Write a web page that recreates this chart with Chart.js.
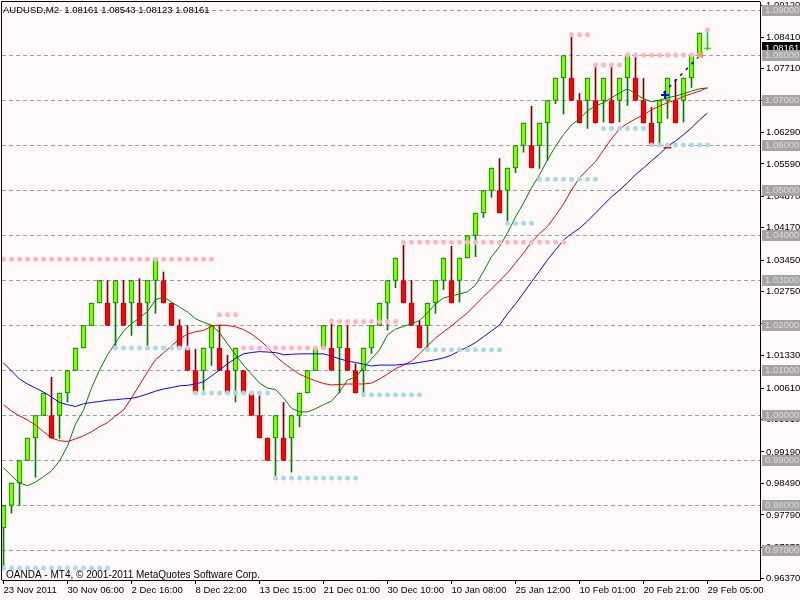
<!DOCTYPE html>
<html><head><meta charset="utf-8">
<script src="https://cdn.jsdelivr.net/npm/chart.js@4.4.0/dist/chart.umd.min.js"></script>
<style>html,body{margin:0;padding:0;background:#FFFAFA;overflow:hidden}#wrap{width:800px;height:600px;position:relative}</style>
</head><body><div id="wrap"><canvas id="c" width="800" height="600"></canvas></div>
<script>
const symbolTitle = "AUDUSD,M2  1.08161 1.08543 1.08123 1.08161";
const copyright = "OANDA - MT4, \u00A9 2001-2011 MetaQuotes Software Corp.";
const xTickLabels = ["23 Nov 2011","30 Nov 06:00","2 Dec 16:00","8 Dec 22:00","13 Dec 15:00","21 Dec 01:00","30 Dec 10:00","10 Jan 08:00","25 Jan 12:00","10 Feb 01:00","20 Feb 21:00","29 Feb 05:00"];
const yTickValues = [1.0912,1.0841,1.0771,1.0700,1.0629,1.0559,1.0487,1.0417,1.0345,1.0275,1.0204,1.0133,1.0061,0.9991,0.9919,0.9849,0.9779,0.9707,0.9637];
const levelLines = [1.09,1.08,1.07,1.06,1.05,1.04,1.03,1.02,1.01,1.00,0.99,0.98,0.97];

const opens = [0.975,0.980,0.985,0.990,0.995,1.000,1.000,1.000,1.005,1.010,
 1.015,1.020,1.025,1.025,1.025,1.025,1.025,1.025,1.025,1.030,
 1.030,1.025,1.020,1.015,1.010,1.010,1.015,1.015,1.010,1.010,
 1.010,1.005,1.000,0.995,0.995,0.995,0.995,1.000,1.005,1.010,
 1.015,1.015,1.015,1.015,1.010,1.010,1.015,1.020,1.025,1.030,
 1.030,1.025,1.020,1.020,1.025,1.030,1.030,1.030,1.035,1.040,
 1.045,1.050,1.050,1.050,1.055,1.060,1.060,1.060,1.065,1.070,
 1.075,1.075,1.070,1.070,1.070,1.070,1.070,1.070,1.075,1.075,
 1.070,1.065,1.065,1.070,1.070,1.070,1.075,1.080];
const closes = [0.980,0.985,0.990,0.995,1.000,1.005,0.995,1.005,1.010,1.015,
 1.020,1.025,1.030,1.020,1.030,1.020,1.030,1.020,1.030,1.035,
 1.025,1.020,1.015,1.010,1.005,1.015,1.020,1.010,1.005,1.015,
 1.005,1.000,0.995,0.990,1.000,0.990,1.000,1.005,1.010,1.015,
 1.020,1.010,1.020,1.010,1.005,1.015,1.020,1.025,1.030,1.035,
 1.025,1.020,1.015,1.025,1.030,1.035,1.025,1.035,1.040,1.045,
 1.050,1.055,1.045,1.055,1.060,1.065,1.055,1.065,1.070,1.075,
 1.080,1.070,1.065,1.075,1.065,1.075,1.065,1.075,1.080,1.070,
 1.065,1.060,1.070,1.075,1.065,1.075,1.080,1.085];
const highs = [0.980,0.985,0.990,0.995,1.000,1.005,1.0085,1.005,1.010,1.015,
 1.020,1.025,1.030,1.030,1.030,1.030,1.030,1.0304,1.030,1.035,
 1.0319,1.025,1.0213,1.020,1.0147,1.015,1.020,1.020,1.0134,1.015,
 1.010,1.005,1.0044,0.995,1.000,1.0029,1.000,1.005,1.010,1.015,
 1.020,1.0214,1.020,1.020,1.0115,1.015,1.020,1.025,1.030,1.035,
 1.0378,1.030,1.0211,1.025,1.030,1.035,1.0376,1.035,1.040,1.045,
 1.050,1.055,1.0571,1.055,1.060,1.065,1.0687,1.065,1.070,1.075,
 1.080,1.0844,1.0716,1.075,1.0778,1.075,1.0778,1.075,1.080,1.080,
 1.0749,1.0685,1.070,1.075,1.0747,1.075,1.080,1.085];
const lows = [0.9663,0.9783,0.980,0.990,0.9863,1.000,0.995,0.9949,1.003,1.010,
 1.015,1.020,1.025,1.020,1.0155,1.020,1.0178,1.020,1.0155,1.0227,
 1.025,1.020,1.015,1.010,1.005,1.0056,1.0111,1.010,1.005,1.003,
 1.005,1.000,0.995,0.990,0.9863,0.990,0.9874,0.9975,1.005,1.010,
 1.015,1.010,1.005,1.010,1.005,1.005,1.0138,1.020,1.019,1.0284,
 1.025,1.020,1.015,1.015,1.0227,1.028,1.025,1.0252,1.035,1.0353,
 1.044,1.0485,1.045,1.043,1.054,1.0585,1.055,1.0549,1.0567,1.0693,
 1.067,1.070,1.065,1.0638,1.065,1.0652,1.065,1.0652,1.0689,1.070,
 1.065,1.060,1.060,1.066,1.065,1.0652,1.0729,1.080];

const maFast = [0.9884,0.9866,0.9850,0.9844,0.9852,0.9864,0.9877,0.9899,0.9932,0.9981,
 1.0012,1.0061,1.0101,1.0135,1.0161,1.0188,1.0204,1.0217,1.0231,1.0257,
 1.0264,1.0252,1.0241,1.0230,1.0215,1.0207,1.0201,1.0184,1.0159,1.0135,
 1.0112,1.0092,1.0072,1.0061,1.0058,1.0039,1.0016,1.0008,1.0008,1.0015,
 1.0024,1.0032,1.0052,1.0079,1.0085,1.0106,1.0126,1.0146,1.0179,1.0192,
 1.0198,1.0204,1.0211,1.0228,1.0248,1.0261,1.0266,1.0270,1.0275,1.0290,
 1.0320,1.0353,1.0375,1.0406,1.0441,1.0472,1.0506,1.0535,1.0568,1.0598,
 1.0624,1.0646,1.0659,1.0677,1.0688,1.0695,1.0706,1.0717,1.0726,1.0715,
 1.0704,1.0697,1.0701,1.0706,1.0710,1.0715,1.0721,1.0726,1.0728];
const maMid = [1.0024,1.0010,0.9999,0.9990,0.9979,0.9964,0.9950,0.9944,0.9942,0.9948,
 0.9955,0.9964,0.9975,0.9984,0.9999,1.0012,1.0039,1.0068,1.0097,1.0124,
 1.0139,1.0155,1.0170,1.0181,1.0186,1.0189,1.0198,1.0201,1.0200,1.0197,
 1.0191,1.0181,1.0168,1.0152,1.0132,1.0117,1.0104,1.0092,1.0084,1.0077,
 1.0071,1.0068,1.0069,1.0070,1.0070,1.0070,1.0072,1.0081,1.0092,1.0104,
 1.0112,1.0121,1.0137,1.0155,1.0172,1.0186,1.0199,1.0214,1.0228,1.0246,
 1.0264,1.0281,1.0299,1.0317,1.0339,1.0361,1.0385,1.0404,1.0420,1.0444,
 1.0470,1.0501,1.0528,1.0546,1.0564,1.0590,1.0615,1.0637,1.0649,1.0659,
 1.0668,1.0679,1.0688,1.0695,1.0701,1.0709,1.0715,1.0721,1.0728];
const maSlow = [1.0117,1.0099,1.0081,1.0070,1.0061,1.0052,1.0041,1.0029,1.0024,1.0020,
 1.0026,1.0029,1.0031,1.0034,1.0035,1.0037,1.0038,1.0042,1.0048,1.0054,
 1.0059,1.0062,1.0066,1.0067,1.0070,1.0075,1.0088,1.0101,1.0115,1.0127,
 1.0137,1.0140,1.0142,1.0141,1.0140,1.0135,1.0136,1.0137,1.0137,1.0137,
 1.0137,1.0132,1.0126,1.0121,1.0118,1.0114,1.0110,1.0112,1.0112,1.0112,
 1.0114,1.0115,1.0118,1.0121,1.0124,1.0128,1.0134,1.0144,1.0152,1.0162,
 1.0175,1.0188,1.0201,1.0226,1.0248,1.0272,1.0297,1.0321,1.0346,1.0368,
 1.0390,1.0404,1.0416,1.0432,1.0450,1.0468,1.0486,1.0501,1.0517,1.0535,
 1.0550,1.0566,1.0581,1.0598,1.0610,1.0624,1.0639,1.0657,1.0672];

const resStart = [0,27,30,41,50,71,74,78,88];
const resEnd   = [26,29,40,49,70,73,77,87,88];
const resLevel = [1.0347,1.0224,1.0150,1.0209,1.0385,1.0846,1.0779,1.0801,1.0857];
const supStart = [0,14,24,34,45,53,63,67,75,81];
const supEnd   = [13,23,33,44,52,62,66,74,80,88];
const supLevel = [0.9661,1.0150,1.0050,0.9861,1.0046,1.0146,1.0427,1.0525,1.0638,1.0601];

const liveBarIdx = 88;
const liveOHLC = [1.08161,1.08543,1.08123,1.08161];
const lastPrice = 1.08161;
const trendX = [82.5,87.1];
const trendY = [1.0717,1.0801];
const crossMark = [82.7,1.0712];
const triMark = [87.2,1.0801];
const redDash = [83,1.0595];

function expand(st,en,lv){const out=[];st.forEach((s,k)=>{for(let i=s;i<=en[k];i++)out.push({x:i,y:lv[k]});});return out;}
const isUp = i => closes[i] >= opens[i];

const FAM = "'Liberation Sans', Arial, sans-serif";
Chart.defaults.font.family = FAM;
Chart.defaults.font.size = 10;

// layout constants: price 1.09 on pixel row 10.5, 45 px per 0.01; bar 0 centred at x 3.5, 8 px per bar
const PX_PER_PRICE = 4500, REF_PRICE = 1.09, REF_Y = 10.5, BAR_PX = 8, BAR0_X = 3.5;

const overlay = {
  id:'overlay',
  beforeDatasetsDraw(chart){
    const {ctx, chartArea:a, scales:{y}} = chart;
    ctx.save();
    ctx.beginPath(); ctx.rect(a.left,a.top,a.right-a.left,a.bottom-a.top); ctx.clip();
    ctx.strokeStyle='#A0A0A0'; ctx.lineWidth=1; ctx.setLineDash([4,3]);
    levelLines.forEach(v=>{const py=Math.floor(y.getPixelForValue(v))+0.5;ctx.beginPath();ctx.moveTo(a.left,py);ctx.lineTo(a.right,py);ctx.stroke();});
    ctx.restore();
  },
  afterDraw(chart){
    const {ctx, chartArea:a, scales:{y}} = chart;
    ctx.save();
    ctx.textBaseline='middle'; ctx.textAlign='left';
    ctx.fillStyle='#000';
    ctx.font = "9.5px " + FAM;
    ctx.fillText(symbolTitle, 3, 10);
    ctx.font = "10px " + FAM;
    ctx.fillText(copyright, 6, 575);
    ctx.font = "9.5px " + FAM;
    let py = y.getPixelForValue(lastPrice);
    ctx.fillStyle='#000'; ctx.fillRect(762, Math.round(py)-6, 38, 11);
    ctx.fillStyle='#fff'; ctx.fillText(lastPrice.toFixed(5), 765, Math.round(py));
    levelLines.forEach(v=>{
      const p=Math.floor(y.getPixelForValue(v));
      ctx.fillStyle='#A4A4A4'; ctx.fillRect(762,p-5,38,11);
      ctx.fillStyle='#DCDCDC'; ctx.fillText(v.toFixed(5),765,p+0.5);
    });
    ctx.strokeStyle='#000'; ctx.lineWidth=1;
    ctx.beginPath(); ctx.moveTo(a.left-0.5,a.bottom); ctx.lineTo(a.left-0.5,a.top-0.5); ctx.lineTo(a.right,a.top-0.5); ctx.stroke();
    ctx.restore();
  }
};

const chart = new Chart(document.getElementById('c'), {
  type:'bar',
  data:{datasets:[
    {type:'bar', order:10, grouped:false, barThickness:1, borderWidth:0,
     data: opens.map((o,i)=>({x:i,y:[lows[i],highs[i]]})),
     backgroundColor: c=> isUp(c.dataIndex)?'#008000':'#800000'},
    {type:'bar', order:9, grouped:false, barThickness:5, borderWidth:1, borderSkipped:false,
     data: opens.map((o,i)=>({x:i,y:[o,closes[i]]})),
     backgroundColor: c=> isUp(c.dataIndex)?'#7CFC00':'#FF0000',
     borderColor: c=> isUp(c.dataIndex)?'#008000':'#C00000'},
    {type:'bar', order:8, grouped:false, barThickness:1, borderWidth:0,
     data:[{x:liveBarIdx,y:[liveOHLC[2],liveOHLC[1]]}], backgroundColor:'#00E000'},
    {type:'line', order:5, data: maSlow.map((v,i)=>({x:i,y:v})), borderColor:'#0000FF', borderWidth:1, pointRadius:0, tension:0},
    {type:'line', order:5, data: maMid.map((v,i)=>({x:i,y:v})), borderColor:'#FF0000', borderWidth:1, pointRadius:0, tension:0},
    {type:'line', order:5, data: maFast.map((v,i)=>({x:i,y:v})), borderColor:'#008000', borderWidth:1, pointRadius:0, tension:0},
    {type:'line', order:4, data: trendX.map((x,k)=>({x,y:trendY[k]})), borderColor:'#0000FF', borderWidth:1.5, borderDash:[3,5], pointRadius:0},
    {type:'line', order:3, showLine:false, data: expand(resStart,resEnd,resLevel), pointRadius:2.5, pointBorderWidth:0, pointBackgroundColor:'#FFB6C1'},
    {type:'line', order:3, showLine:false, data: expand(supStart,supEnd,supLevel), pointRadius:2.5, pointBorderWidth:0, pointBackgroundColor:'#ADD8E6'},
    {type:'line', order:2, showLine:false, data:[{x:crossMark[0],y:crossMark[1]}], pointStyle:'cross', pointRadius:4, pointBorderWidth:2, pointBorderColor:'#0000FF'},
    {type:'line', order:2, showLine:false, data:[{x:triMark[0],y:triMark[1]}], pointStyle:'triangle', rotation:-90, pointRadius:4, pointBorderWidth:0, pointBackgroundColor:'#E3A03A'},
    {type:'line', order:2, showLine:false, data:[{x:redDash[0],y:redDash[1]}], pointStyle:'line', pointRadius:4, pointBorderWidth:1.5, pointBorderColor:'#FF0000'},
    {type:'line', order:2, showLine:false, data:[{x:liveBarIdx,y:liveOHLC[3]}], pointStyle:'line', pointRadius:3.5, pointBorderWidth:1, pointBorderColor:'#00E000'}
  ]},
  options:{
    responsive:false, animation:false, devicePixelRatio:1,
    layout:{autoPadding:false, padding:{top:2,left:2,right:0,bottom:0}},
    plugins:{legend:{display:false},tooltip:{enabled:false},title:{display:false}},
    scales:{
      x:{type:'linear', min:-0.1875, max:94.5625, offset:false, position:'bottom', bounds:'data',
         grid:{drawOnChartArea:false, drawTicks:true, tickLength:4, color:'#000', offset:false},
         border:{display:true, color:'#000', width:1},
         ticks:{autoSkip:false, maxRotation:0, minRotation:0, align:'start', padding:1, color:'#000', font:{size:9.5}, callback:(v,i)=>xTickLabels[i]},
         afterBuildTicks:s=>{s.ticks = xTickLabels.map((_,k)=>({value:k*8}));},
         afterFit:s=>{s.height=20; s.paddingLeft=0; s.paddingRight=0;}},
      y:{type:'linear', position:'right', min:0.963444, max:1.091889, bounds:'data',
         grid:{drawOnChartArea:false, tickLength:4, color:'#000'},
         border:{display:true, color:'#000', width:1},
         ticks:{padding:2, color:'#000', font:{size:9.5}, callback:(v)=>Number(v).toFixed(5)},
         afterBuildTicks:s=>{s.ticks = yTickValues.map(v=>({value:v}));},
         afterFit:s=>{s.width=40; s.paddingTop=0; s.paddingBottom=0;}}
    }
  },
  plugins:[overlay]
});

// calibrate scale ranges to the actual plot area so the price/bar grid lands on the reference pixels
(function calibrate(){
  const a = chart.chartArea;
  const yo = chart.options.scales.y, xo = chart.options.scales.x;
  yo.max = REF_PRICE + (REF_Y - a.top) / PX_PER_PRICE;
  yo.min = yo.max - (a.bottom - a.top) / PX_PER_PRICE;
  xo.min = (a.left - BAR0_X) / BAR_PX;
  xo.max = xo.min + (a.right - a.left) / BAR_PX;
  chart.update();
})();
</script></body></html>
